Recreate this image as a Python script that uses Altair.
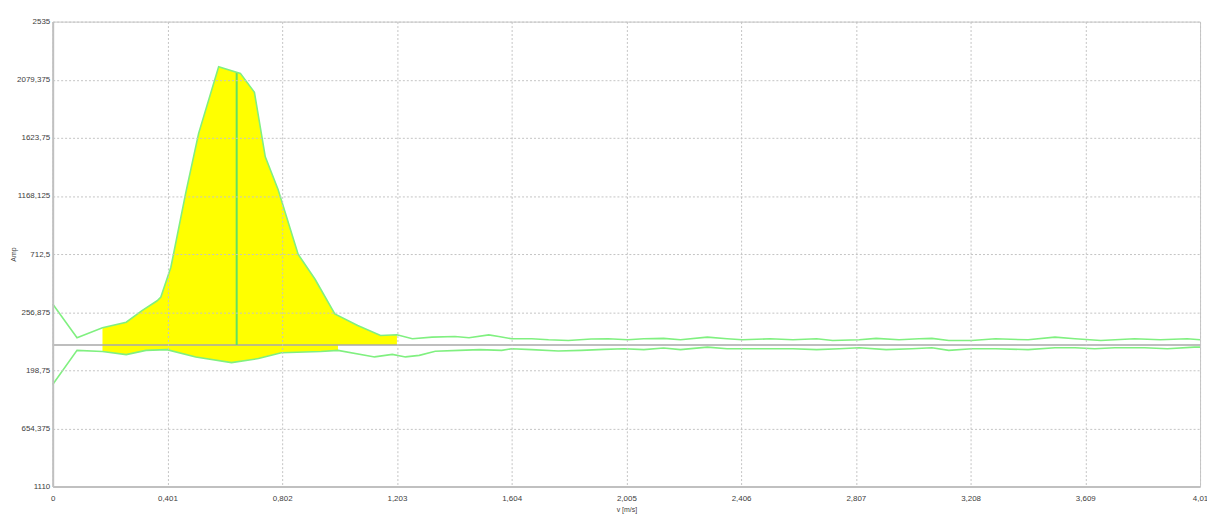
import altair as alt
import pandas as pd

# ---- data ----
upper_v = [0, 0.085, 0.174, 0.257, 0.312, 0.365, 0.378, 0.413, 0.465, 0.510,
           0.580, 0.656, 0.705, 0.743, 0.788, 0.858, 0.917, 0.986, 1.066, 1.146,
           1.203, 1.257, 1.326, 1.406, 1.455, 1.524, 1.559, 1.604, 1.674, 1.733,
           1.802, 1.882, 1.941, 2.010, 2.066, 2.135, 2.194, 2.288, 2.357, 2.410,
           2.507, 2.587, 2.670, 2.726, 2.819, 2.878, 2.958, 3.028, 3.073, 3.132,
           3.212, 3.295, 3.409, 3.503, 3.573, 3.663, 3.781, 3.871, 3.965, 4.01]
upper_amp = [321, 56, 134, 178, 269, 346, 375, 609, 1192, 1659,
             2181, 2129, 1981, 1475, 1216, 710, 515, 243, 152, 74,
             80, 48, 61, 66, 56, 79, 66, 48, 48, 40,
             35, 46, 48, 40, 48, 51, 40, 61, 48, 40,
             48, 40, 48, 35, 40, 51, 40, 48, 51, 35,
             35, 48, 40, 61, 48, 35, 48, 40, 48, 40]

lower_v = [0, 0.085, 0.174, 0.257, 0.326, 0.399, 0.500, 0.625, 0.719, 0.799,
           0.937, 0.997, 1.125, 1.187, 1.233, 1.281, 1.337, 1.420, 1.493, 1.569,
           1.604, 1.674, 1.767, 1.847, 1.927, 1.997, 2.066, 2.135, 2.194, 2.288,
           2.357, 2.410, 2.507, 2.587, 2.670, 2.750, 2.819, 2.913, 3.003, 3.073,
           3.132, 3.212, 3.295, 3.409, 3.503, 3.573, 3.642, 3.712, 3.816, 3.896,
           3.990, 4.01]
lower_amp = [-310, -43, -51, -76, -43, -37, -94, -139, -107, -61,
             -51, -43, -94, -74, -94, -82, -50, -43, -37, -43,
             -30, -37, -48, -43, -35, -30, -37, -24, -37, -17,
             -30, -30, -30, -30, -37, -30, -22, -37, -30, -22,
             -43, -30, -30, -37, -22, -22, -30, -22, -22, -30,
             -17, -17]

fill_start = 0.174
upper_fill_end = 1.203
lower_fill_end = 0.997

peak_v = [0.643]
peak_amp = [2138]

x_ticks = [0, 0.401, 0.802, 1.203, 1.604, 2.005, 2.406, 2.807, 3.208, 3.609, 4.01]
y_ticks = [-1110, -654.375, -198.75, 256.875, 712.5, 1168.125, 1623.75, 2079.375, 2535]

upper_df = pd.DataFrame({"v": upper_v, "amp": upper_amp})
upper_df["base"] = 0
lower_df = pd.DataFrame({"v": lower_v, "amp": lower_amp})
lower_df["base"] = 0
peak_df = pd.DataFrame({"v": peak_v, "amp": peak_amp})
peak_df["base"] = 0
zero_df = pd.DataFrame({"amp": [0]})

GREEN = "#80F080"
FONT = "Liberation Sans"

x_scale = alt.Scale(domain=[0, 4.01], nice=False, zero=False)
y_scale = alt.Scale(domain=[-1110, 2535], nice=False, zero=False)

x_axis = alt.Axis(
    values=x_ticks,
    labelExpr="replace(toString(datum.value), '.', ',')",
    title="v [m/s]", titleFontSize=7, titleFontWeight="normal", titleFont=FONT,
    titleColor="#404040", titlePadding=3,
    labelFont=FONT, labelFontSize=8, labelColor="#404040", labelPadding=8,
    labelFlush=False, labelOverlap=False, labelBound=False,
    ticks=False, grid=True, gridDash=[2, 2], gridColor="#c4c4c4", gridWidth=1,
    domainColor="#c0c0c0", domainWidth=2, zindex=1,
)
y_axis = alt.Axis(
    values=y_ticks,
    labelExpr="replace(toString(abs(datum.value)), '.', ',')",
    title="Amp", titleFontSize=7, titleFontWeight="normal", titleFont=FONT,
    titleColor="#404040", titleX=-36, titleY=234,
    labelFont=FONT, labelFontSize=8, labelColor="#404040", labelPadding=3,
    labelFlush=False, labelOverlap=False, labelBound=False,
    ticks=False, grid=True, gridDash=[2, 2], gridColor="#c4c4c4", gridWidth=1,
    domainColor="#c0c0c0", domainWidth=2, zindex=1,
)

X = alt.X("v:Q", scale=x_scale, axis=x_axis)
Y = alt.Y("amp:Q", scale=y_scale, axis=y_axis)

area_up = alt.Chart(upper_df).transform_filter(
    f"datum.v >= {fill_start} && datum.v <= {upper_fill_end}"
).mark_area(color="#FFFF00", opacity=1).encode(x=X, y=Y, y2=alt.Y2("base:Q"))

area_low = alt.Chart(lower_df).transform_filter(
    f"datum.v >= {fill_start} && datum.v <= {lower_fill_end}"
).mark_area(color="#FFFF00", opacity=1).encode(x=X, y=Y, y2=alt.Y2("base:Q"))

zero_rule = alt.Chart(zero_df).mark_rule(color="#a8a8a8", strokeWidth=1.5).encode(
    y=alt.Y("amp:Q", scale=y_scale)
)

peak_rule = alt.Chart(peak_df).mark_rule(color="#62E062", strokeWidth=2).encode(
    x=alt.X("v:Q", scale=x_scale), y=alt.Y("base:Q", scale=y_scale), y2=alt.Y2("amp:Q")
)

up_line = alt.Chart(upper_df).mark_line(color=GREEN, strokeWidth=1.6).encode(x=X, y=Y)
low_line = alt.Chart(lower_df).mark_line(color=GREEN, strokeWidth=1.6).encode(x=X, y=Y)

chart = alt.layer(area_up, area_low, zero_rule, peak_rule, up_line, low_line).properties(
    width=1155, height=468,
    autosize=alt.AutoSizeParams(type="none"),
    padding={"left": 45, "top": 12, "right": 7, "bottom": 26},
    background="white",
).configure_view(stroke="#c8c8c8", strokeWidth=1)

chart.save("out.html", embed_options={"renderer": "svg", "actions": False})
